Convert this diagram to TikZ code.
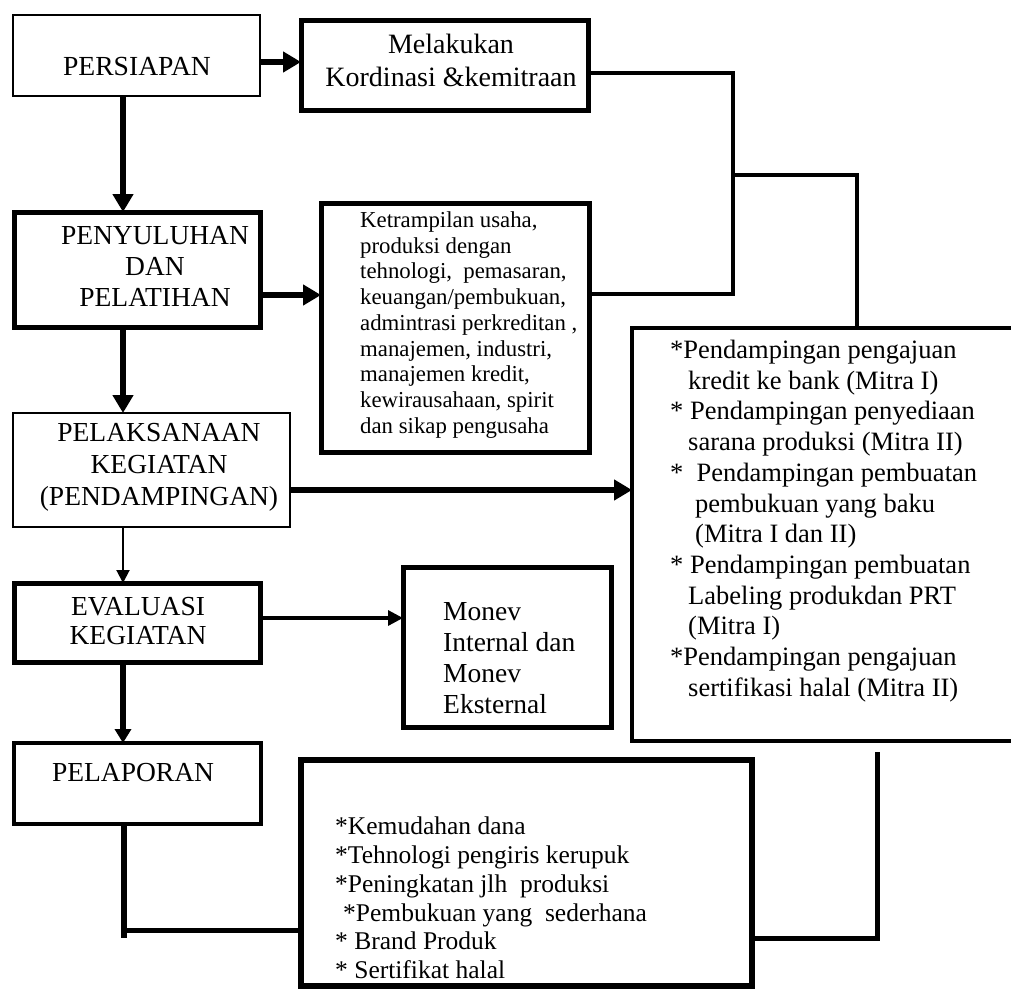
\documentclass[tikz,border=0pt]{standalone}
\usepackage{fontspec}
\setmainfont{Liberation Serif}
\usetikzlibrary{arrows.meta}
\newcommand\myfs[2]{\fontsize{#1}{#2}\selectfont}
\begin{document}
\begin{tikzpicture}[x=1pt,y=-1pt,
  box/.style={draw, inner sep=0pt, outer sep=0pt, anchor=north west},
  thinb/.style={box, line width=2.6pt},
  thickb/.style={box, line width=5pt},
  txt/.style={inner sep=0pt, align=center},
  ltxt/.style={inner sep=0pt, align=left, anchor=west},
  bigarrow/.style={line width=6.5pt, -{Triangle[length=18pt,width=20pt]}},
  midarrow/.style={line width=5.5pt, -{Triangle[length=14pt,width=16pt]}},
  medarrow/.style={line width=3.2pt, -{Triangle[length=15pt,width=15pt]}},
  thinarrow/.style={line width=2pt, -{Triangle[length=13pt,width=13pt]}},
  conn/.style={line width=4.5pt}]
\useasboundingbox (0,0) rectangle (1011,990);

% boxes
\node[thinb,  minimum width=247, minimum height=81]  (persiapan) at (13,15) {};
\node[thickb, minimum width=287, minimum height=89]  (melakukan) at (301,21) {};
\node[thickb, minimum width=246, minimum height=115] (penyuluhan) at (14,212) {};
\node[thickb, minimum width=268, minimum height=249] (ketr) at (321,203) {};
\node[thinb,  minimum width=277, minimum height=114] (pelak) at (13,413) {};
\node[box, line width=4.8pt, minimum width=408, minimum height=413] (pend) at (632,328) {};
\node[thickb, minimum width=246, minimum height=79]  (evalu) at (14,583) {};
\node[thickb, minimum width=208, minimum height=160] (monev) at (403,567) {};
\node[box, line width=4.8pt, minimum width=247, minimum height=81] (pelap) at (14,743) {};
\node[box, line width=5.5pt, minimum width=451, minimum height=226] (result) at (301,760) {};

% texts
\node[txt, font=\myfs{27.6}{31}] (tPers) at (137,66) {PERSIAPAN};
\node[txt, font=\myfs{28}{33}] (tMel) at (451,60) {Melakukan\\Kordinasi \&kemitraan};
\node[txt, font=\myfs{27.5}{31}] (tPeny) at (155,266) {PENYULUHAN\\DAN\\PELATIHAN};
\node[ltxt, font=\myfs{22.8}{25.75}] (tKet) at (360,325) {Ketrampilan usaha,\\produksi dengan\\tehnologi,~ pemasaran,\\keuangan/pembukuan,\\admintrasi perkreditan ,\\manajemen, industri,\\manajemen kredit,\\kewirausahaan, spirit\\dan sikap pengusaha};
\node[txt, font=\myfs{27.5}{32}] (tPel) at (159,467) {PELAKSANAAN\\KEGIATAN\\(PENDAMPINGAN)};
\node[ltxt, font=\myfs{26.5}{30.7}] (tPend) at (670,521) {*Pendampingan pengajuan\\\hspace*{18pt}kredit ke bank (Mitra I)\\* Pendampingan penyediaan\\\hspace*{18pt}sarana produksi (Mitra II)\\*~ Pendampingan pembuatan\\\hspace*{25pt}pembukuan yang baku\\\hspace*{25pt}(Mitra I dan II)\\* Pendampingan pembuatan\\\hspace*{18pt}Labeling produkdan PRT\\\hspace*{18pt}(Mitra I)\\*Pendampingan pengajuan\\\hspace*{18pt}sertifikasi halal (Mitra II)};
\node[txt, font=\myfs{27.5}{29.5}] (tEval) at (138,621) {EVALUASI\\KEGIATAN};
\node[ltxt, font=\myfs{27.5}{31}] (tMon) at (443,658) {Monev\\Internal dan\\Monev\\Eksternal};
\node[txt, font=\myfs{27.5}{31}] (tLap) at (133,773) {PELAPORAN};
\node[ltxt, font=\myfs{25.5}{28.8}] (tRes) at (335,898) {*Kemudahan dana\\*Tehnologi pengiris kerupuk\\*Peningkatan jlh~ produksi\\\hspace*{8pt}*Pembukuan yang~ sederhana\\* Brand Produk\\* Sertifikat halal};

% helper coordinates
\coordinate (xl) at (123,0);
\coordinate (ya) at (0,62);
\coordinate (yb) at (0,295);
\coordinate (yc) at (0,490);
\coordinate (yd) at (0,618);

% arrows
\draw[bigarrow] (persiapan.east |- ya) -- (melakukan.west |- ya);
\draw[bigarrow] (persiapan.south -| xl) -- (penyuluhan.north -| xl);
\draw[bigarrow] (penyuluhan.east |- yb) -- (ketr.west |- yb);
\draw[bigarrow] (penyuluhan.south -| xl) -- (pelak.north -| xl);
\draw[bigarrow] (pelak.east |- yc) -- (pend.west |- yc);
\draw[thinarrow] (pelak.south -| xl) -- (evalu.north -| xl);
\draw[medarrow] (evalu.east |- yd) -- (monev.west |- yd);
\draw[midarrow] (evalu.south -| xl) -- (pelap.north -| xl);

% connectors on the right
\coordinate (jTop) at (733,73);
\coordinate (jBot) at (733,294);
\coordinate (jA) at (733,175);
\coordinate (jR) at (857,175);
\draw[conn] (melakukan.east |- jTop) -- (jTop) -- (jBot) -- (ketr.east |- jBot);
\draw[conn] (jA) -- (jR) -- (pend.north -| jR);

% bottom connectors
\coordinate (pl) at (124,930);
\coordinate (plEnd) at (124,938);
\coordinate (rr) at (877,938);
\coordinate (rtop) at (877,752);
\draw[conn, line width=5.5pt] (pelap.south -| pl) -- (plEnd);
\draw[conn, line width=5pt] (pl) -- (result.west |- pl);
\draw[conn, line width=5pt] (result.east |- rr) -- (rr) -- (rtop);
\end{tikzpicture}
\end{document}
